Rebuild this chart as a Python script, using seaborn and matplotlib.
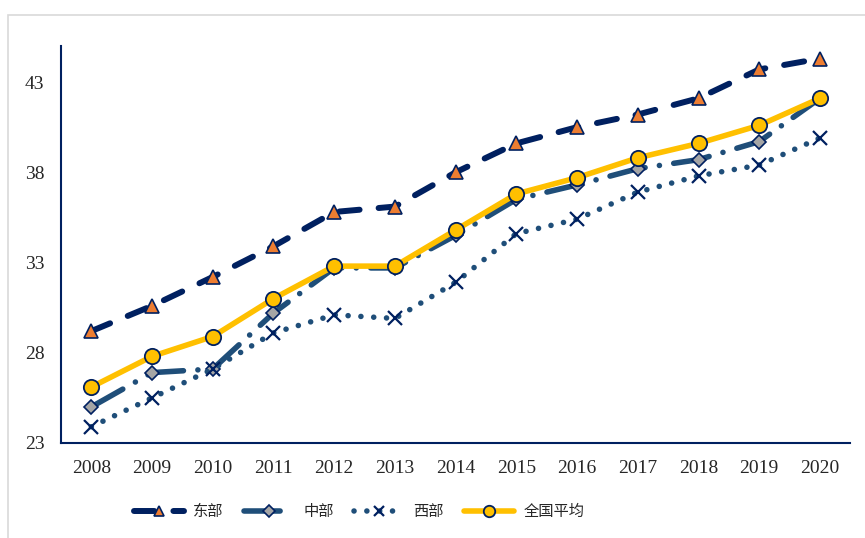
import numpy as np
import pandas as pd
import matplotlib
matplotlib.use("Agg")
import matplotlib.pyplot as plt
import seaborn as sns
from matplotlib.patches import Rectangle

# Data
years = ["2008", "2009", "2010", "2011", "2012", "2013", "2014",
         "2015", "2016", "2017", "2018", "2019", "2020"]
east = [29.2, 30.6, 32.2, 33.9, 35.8, 36.1, 38.0, 39.6, 40.5, 41.2, 42.1, 43.7, 44.3]
central = [25.0, 26.9, 27.1, 30.2, 32.7, 32.7, 34.5, 36.5, 37.3, 38.2, 38.7, 39.7, 42.1]
west = [23.9, 25.5, 27.1, 29.1, 30.1, 29.9, 31.9, 34.6, 35.4, 36.9, 37.8, 38.4, 39.9]
national = [26.1, 27.8, 28.9, 31.0, 32.8, 32.8, 34.8, 36.8, 37.7, 38.8, 39.6, 40.6, 42.1]

df = pd.DataFrame({"pos": np.arange(len(years)), "东部": east, "中部": central,
                   "西部": west, "全国平均": national})

sns.set_style("white")
plt.rcParams["font.family"] = ["Liberation Serif", "Noto Sans CJK SC"]

navy = "#002060"
steel = "#1F4E79"

fig = plt.figure(figsize=(8.65, 5.38), dpi=100)
ax = fig.add_axes([0.0705, 0.1766, 0.9125, 0.738])

# light frame around the chart area
fig.patches.append(Rectangle((0.009, -0.02), 1.2, 0.993, transform=fig.transFigure,
                             fill=False, edgecolor="#d9d9d9", linewidth=1.2))

# 东部: navy dashes, orange triangles
sns.lineplot(data=df, x="pos", y="东部", ax=ax, color=navy, linewidth=4.3,
             linestyle=(0, (3.4, 3.2)), dash_capstyle="round",
             marker="^", markersize=10, markerfacecolor="#ED7D31",
             markeredgecolor=navy, markeredgewidth=1.2, label="东部")

# 中部: long dash-dot, grey diamonds
sns.lineplot(data=df, x="pos", y="中部", ax=ax, color=steel, linewidth=4.0,
             linestyle=(0, (6.5, 2.6, 0.01, 2.6)), dash_capstyle="round",
             marker="D", markersize=7.5, markerfacecolor="#A5A5A5",
             markeredgecolor=navy, markeredgewidth=1.2, label="中部")

# 西部: round dots, navy crosses
sns.lineplot(data=df, x="pos", y="西部", ax=ax, color=steel, linewidth=4.0,
             linestyle=(0, (0.01, 2.3)), dash_capstyle="round",
             marker="x", markersize=10, markeredgecolor=navy,
             markeredgewidth=1.6, label="西部")

# 全国平均: solid yellow line, yellow circles
sns.lineplot(data=df, x="pos", y="全国平均", ax=ax, color="#FFC000", linewidth=4.0,
             marker="o", markersize=11, markerfacecolor="#FFC000",
             markeredgecolor=navy, markeredgewidth=1.3, label="全国平均")

ax.set_xlim(-0.5, len(years) - 0.5)
ax.set_ylim(23, 45)
ax.set_yticks([23, 28, 33, 38, 43])
ax.set_xticks(df["pos"])
ax.set_xticklabels(years)
ax.set_xticks(np.arange(0.5, len(years) - 1, 1.0), minor=True)
ax.set_xlabel("")
ax.set_ylabel("")

for side in ["top", "right"]:
    ax.spines[side].set_visible(False)
for side in ["left", "bottom"]:
    ax.spines[side].set_color(navy)
    ax.spines[side].set_linewidth(1.5)

ax.tick_params(axis="x", which="major", length=0, labelsize=14, pad=12)
ax.tick_params(axis="x", which="minor", direction="in", length=5, width=1.2, color=navy)
ax.tick_params(axis="y", direction="in", length=5, width=1.2, color=navy,
               labelsize=14, pad=12)

ax.legend(loc="center", bbox_to_anchor=(0.415, 0.048), bbox_transform=fig.transFigure,
          ncol=4, frameon=False, fontsize=11, handlelength=3.3, markerscale=0.75,
          columnspacing=1.3, handletextpad=0.6)

plt.savefig("out.png", dpi=100)
